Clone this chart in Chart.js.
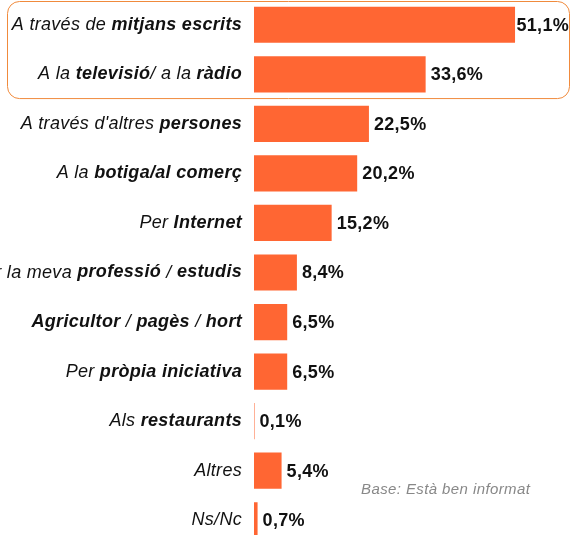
<!DOCTYPE html>
<html>
<head>
<meta charset="utf-8">
<script src="https://cdn.jsdelivr.net/npm/chart.js@4"></script>
<style>
  html, body { margin: 0; padding: 0; background: #fff; overflow: hidden; }
  #wrap { width: 572px; height: 545px; }
</style>
</head>
<body>
<div id="wrap"><canvas id="bar-chart" width="572" height="545"></canvas></div>
<script>
// text between ** ** is drawn bold
const categories = [
  "A través de **mitjans escrits**",
  "A la **televisió**/ a la **ràdio**",
  "A través d'altres **persones**",
  "A la **botiga/al comerç**",
  "Per **Internet**",
  "Per la meva **professió** / **estudis**",
  "**Agricultor** / **pagès** / **hort**",
  "Per **pròpia iniciativa**",
  "Als **restaurants**",
  "Altres",
  "Ns/Nc"
];
const values = [51.1, 33.6, 22.5, 20.2, 15.2, 8.4, 6.5, 6.5, 0.1, 5.4, 0.7];
const note = "Base: Està ben informat";

const barColor = "#FF6633";
const fontFamily = "'Liberation Sans', Arial, sans-serif";

function parts(label) {
  return label.split("**").map((t, i) => ({ text: t, bold: i % 2 == 1 })).filter(p => p.text);
}

const labelsPlugin = {
  id: "labels",
  afterDatasetsDraw(chart) {
    const ctx = chart.ctx;
    const y = chart.scales.y;
    const meta = chart.getDatasetMeta(0);
    ctx.save();
    ctx.textBaseline = "middle";

    // highlight box round the first two rows
    const step = y.getPixelForValue(1) - y.getPixelForValue(0);
    const top = y.getPixelForValue(0) - step / 2 + 1;
    const bottom = y.getPixelForValue(1) + step / 2 - 1;
    ctx.strokeStyle = "#F08A3C";
    ctx.lineWidth = 1;
    ctx.beginPath();
    ctx.roundRect(7.5, top + 0.5, 562, bottom - top, 12);
    ctx.stroke();

    ctx.letterSpacing = "0.3px";
    categories.forEach((label, i) => {
      const cy = y.getPixelForValue(i);
      // category label, right aligned, mixed bold
      const segs = parts(label);
      let total = 0;
      segs.forEach(s => {
        ctx.font = "italic " + (s.bold ? "bold " : "") + "18px " + fontFamily;
        s.w = ctx.measureText(s.text).width;
        total += s.w;
      });
      let x = 242 - total;
      ctx.fillStyle = "#111";
      ctx.textAlign = "left";
      segs.forEach(s => {
        ctx.font = "italic " + (s.bold ? "bold " : "") + "18px " + fontFamily;
        ctx.fillText(s.text, x, cy);
        x += s.w;
      });

      // value label
      const bar = meta.data[i];
      const txt = values[i].toFixed(1).replace(".", ",") + "%";
      ctx.font = "bold 18px " + fontFamily;
      const tw = ctx.measureText(txt).width;
      const vx = Math.min(bar.x + 5, chart.width - 3 - tw);
      ctx.fillText(txt, vx, cy + 1);
    });

    ctx.letterSpacing = "0.4px";
    ctx.font = "italic 15px " + fontFamily;
    ctx.fillStyle = "#888";
    ctx.fillText(note, 361, 490);
    ctx.restore();
  }
};

new Chart(document.getElementById("bar-chart").getContext("2d"), {
  type: "bar",
  data: {
    labels: categories,
    datasets: [
      {
        data: values,
        backgroundColor: barColor,
        barPercentage: 1,
        categoryPercentage: 0.73,
      },
    ],
  },
  options: {
    indexAxis: "y",
    responsive: false,
    animation: false,
    layout: { padding: { left: 254, right: 11.5, top: 0, bottom: 0 } },
    plugins: { legend: { display: false }, tooltip: { enabled: false } },
    scales: {
      x: { display: false, min: 0, max: 60 },
      y: { display: false },
    },
  },
  plugins: [labelsPlugin],
});
</script>
</body>
</html>
